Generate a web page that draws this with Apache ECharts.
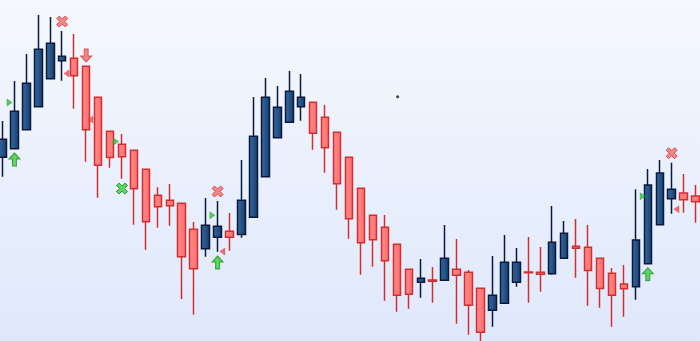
<!DOCTYPE html>
<html>
<head>
<meta charset="utf-8">
<script src="https://cdn.jsdelivr.net/npm/echarts@6/dist/echarts.min.js"></script>
<style>html,body{margin:0;padding:0;}#c{width:700px;height:341px;}</style>
</head>
<body>
<div id="c"></div>
<script>
// Candle data: [open, close, low, high], one per session
const sessions = Array.from({length: 59}, (_, i) => i);
const ohlc = [
  [183.7,201.7,164.3,220],[192.3,229.7,192.3,260],[211.3,257.7,211.3,287],[234.3,291.7,234.3,326],
  [262.3,297.7,262.3,324],[280.3,284.7,260.3,310],[282.7,265.3,232.3,307],[274.7,211.3,179.3,274.7],
  [243.7,175.7,143.3,243.7],[209.7,183.5,173.3,209.7],[196.7,184.3,162.3,207],[190.7,152.3,116.3,190.7],
  [171.7,119.3,91.3,171.7],[145.7,134.3,113.3,153.7],[140.7,135.3,115.3,157],[137.7,84.3,42,137.7],
  [111.7,72.3,26.3,119],[92.3,115.7,84.3,143],[103.7,114.7,89.3,140],[109.7,103.7,90.3,128],
  [106.5,140.7,103.3,181],[123.7,204.7,123.7,244],[164.3,243.7,164.3,263],[203.3,233.7,203.3,255],
  [218.7,249.7,218.7,270],[234.3,243.7,220.3,267],[238.7,207.7,191.3,238.7],[223.7,193.3,168.3,236],
  [208.7,157.3,131.3,208.7],[183.7,122.3,102.3,183.7],[152.7,98.3,66.3,152.7],[125.7,101.3,74.3,125.7],
  [113.7,80.3,40.3,126],[96.7,45.7,29.3,96.7],[71.7,46.7,32.3,71.7],[58.7,62.7,43.3,82],
  [61,59.7,38.3,74],[60.7,82.7,60.7,116],[71.7,65.7,17.3,102],[68.7,35.7,6.3,71],
  [52.7,8.7,-3,52.7],[30.7,45.7,14.3,85],[37.7,78.7,37.7,106],[58.7,78.7,54.3,93],
  [69,68.3,38.3,104],[68.7,66.7,49.3,94],[67.3,98.7,66.3,135],[82.7,107.7,82.7,120],
  [94.7,92.7,63.3,122],[93.7,70.5,35.3,116],[82.7,52.5,33.3,82.7],[67.7,45.7,14.3,73],
  [57,52.3,24.3,76],[54.3,101,41.3,151.7],[77.3,156,77.3,172],[116.3,168,116.3,181],
  [142.3,151.7,127.3,178.3],[148,141.3,128.3,167],[145,139.3,118.3,156]
];
// Signal markers: [position (session index units), price]
const buyArrows = [[1.0,181.5],[18,78.5],[54,66.8]];
const sellArrows = [[7,285.5]];
const sellCrosses = [[5,319.5],[18,149.5],[56,187.8]];
const buyCrosses = [[10,152.5]];
const rightTriangles = [[0.59,238.5],[9.5,199.5],[17.56,125.7],[53.57,144.7]];
const leftTriangles = [[5.36,267.5],[7.36,221.5],[18.4,89.5],[56.4,131.7]];
const dots = [[33.07,244.3]];

const candleData = sessions.map((s, i) => [s].concat(ohlc[i]));

const upPath = 'path://M5.5,0 L11,6 L7.5,6 L7.5,13 L3.5,13 L3.5,6 L0,6 Z';
const downPath = 'path://M3.5,0 L7.5,0 L7.5,7 L11,7 L5.5,13 L0,7 L3.5,7 Z';
const crossPath = 'path://M2.5,0 L5.5,3 L8.5,0 L11,2.5 L8,5.5 L11,8.5 L8.5,11 L5.5,8 L2.5,11 L0,8.5 L3,5.5 L0,2.5 Z';
const rightPath = 'path://M0,0 L5,3.5 L0,7 Z';
const leftPath = 'path://M5,0 L0,3.5 L5,7 Z';

const green = {color:'#3dcc3d', borderColor:'#17901a', borderWidth:1};
const red = {color:'#f46a6a', borderColor:'#d33a3a', borderWidth:1};

function scatter(data, symbol, size, style) {
  return {type:'scatter', data:data, symbol:symbol, symbolSize:size,
    itemStyle:style, silent:true, z:5};
}

const chart = echarts.init(document.getElementById('c'), null, {renderer:'canvas'});
chart.setOption({
  animation:false,
  backgroundColor:{type:'linear',x:0,y:0,x2:0,y2:1,colorStops:[{offset:0,color:'#f5f8fe'},{offset:1,color:'#dfe8fb'}]},
  grid:{left:0,right:0,top:0,bottom:0},
  xAxis:{type:'value',min:-0.209,max:58.368,show:false},
  yAxis:{type:'value',min:0,max:341,show:false},
  series:[
    {type:'candlestick',data:candleData,encode:{x:0,y:[1,2,3,4]},barWidth:8,
      itemStyle:{
        color:{type:'linear',x:0,y:0,x2:1,y2:0,colorStops:[{offset:0,color:'#3a6ca3'},{offset:1,color:'#163c6c'}]},
        color0:{type:'linear',x:0,y:0,x2:1,y2:0,colorStops:[{offset:0,color:'#ff8c8c'},{offset:1,color:'#ff6c6c'}]},
        borderColor:'#0a1a3c',borderColor0:'#d23030',borderWidth:1.5
      }},
    scatter(buyArrows, upPath, [11,13], green),
    scatter(sellArrows, downPath, [11,13], red),
    scatter(sellCrosses, crossPath, [11,11], red),
    scatter(buyCrosses, crossPath, [11,11], green),
    scatter(rightTriangles, rightPath, [5,7], {color:'#2fbf2f', borderColor:'#1a9a1a', borderWidth:0.5}),
    scatter(leftTriangles, leftPath, [5,7], {color:'#f05050', borderColor:'#d33a3a', borderWidth:0.5}),
    scatter(dots, 'circle', 3, {color:'#111'})
  ]
});
</script>
</body>
</html>
